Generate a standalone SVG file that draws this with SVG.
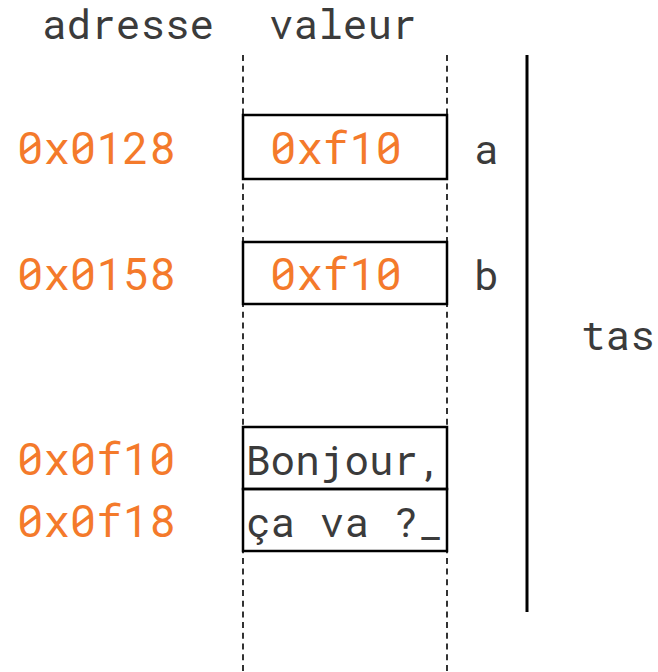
<svg xmlns="http://www.w3.org/2000/svg" width="658" height="672" viewBox="0 0 658 672">
<style>
text{font-family:"Roboto Mono","DejaVu Sans Mono","Liberation Mono",monospace;font-size:41px}
.d{fill:#3b3b3b}
.o{fill:#f47a2b;font-size:44px}
.cell{fill:none;stroke:#000;stroke-width:2.5}
.guide{stroke:#000;stroke-width:1.6;stroke-dasharray:6 4.7}
</style>
<rect width="658" height="672" fill="#fff"/>
<g id="header">
<text class="d" x="42" y="39">adresse</text>
<text class="d" x="269" y="39">valeur</text>
</g>
<g id="guides">
<line class="guide" x1="243" y1="55" x2="243" y2="672"/>
<line class="guide" x1="447" y1="55" x2="447" y2="672"/>
</g>
<g id="heap">
<line x1="527" y1="55" x2="527" y2="612" stroke="#000" stroke-width="3"/>
<text class="d" x="581" y="350">tas</text>
</g>
<g id="var-a">
<rect class="cell" x="243" y="115" width="204" height="64" fill="#fff"/>
<text class="o" x="17" y="164">0x0128</text>
<text class="o" x="270" y="164">0xf10</text>
<text class="d" x="474" y="164">a</text>
</g>
<g id="var-b">
<rect class="cell" x="243" y="242" width="204" height="62" fill="#fff"/>
<text class="o" x="17" y="290">0x0158</text>
<text class="o" x="270" y="290">0xf10</text>
<text class="d" x="474" y="290">b</text>
</g>
<g id="string">
<rect class="cell" x="243" y="427" width="204" height="62" fill="#fff"/>
<rect class="cell" x="243" y="489" width="204" height="62" fill="#fff"/>
<text class="o" x="17" y="475">0x0f10</text>
<text class="o" x="17" y="537">0x0f18</text>
<text class="d" x="246" y="475">Bonjour,</text>
<text class="d" x="246" y="537">ça va ?_</text>
</g>
</svg>
